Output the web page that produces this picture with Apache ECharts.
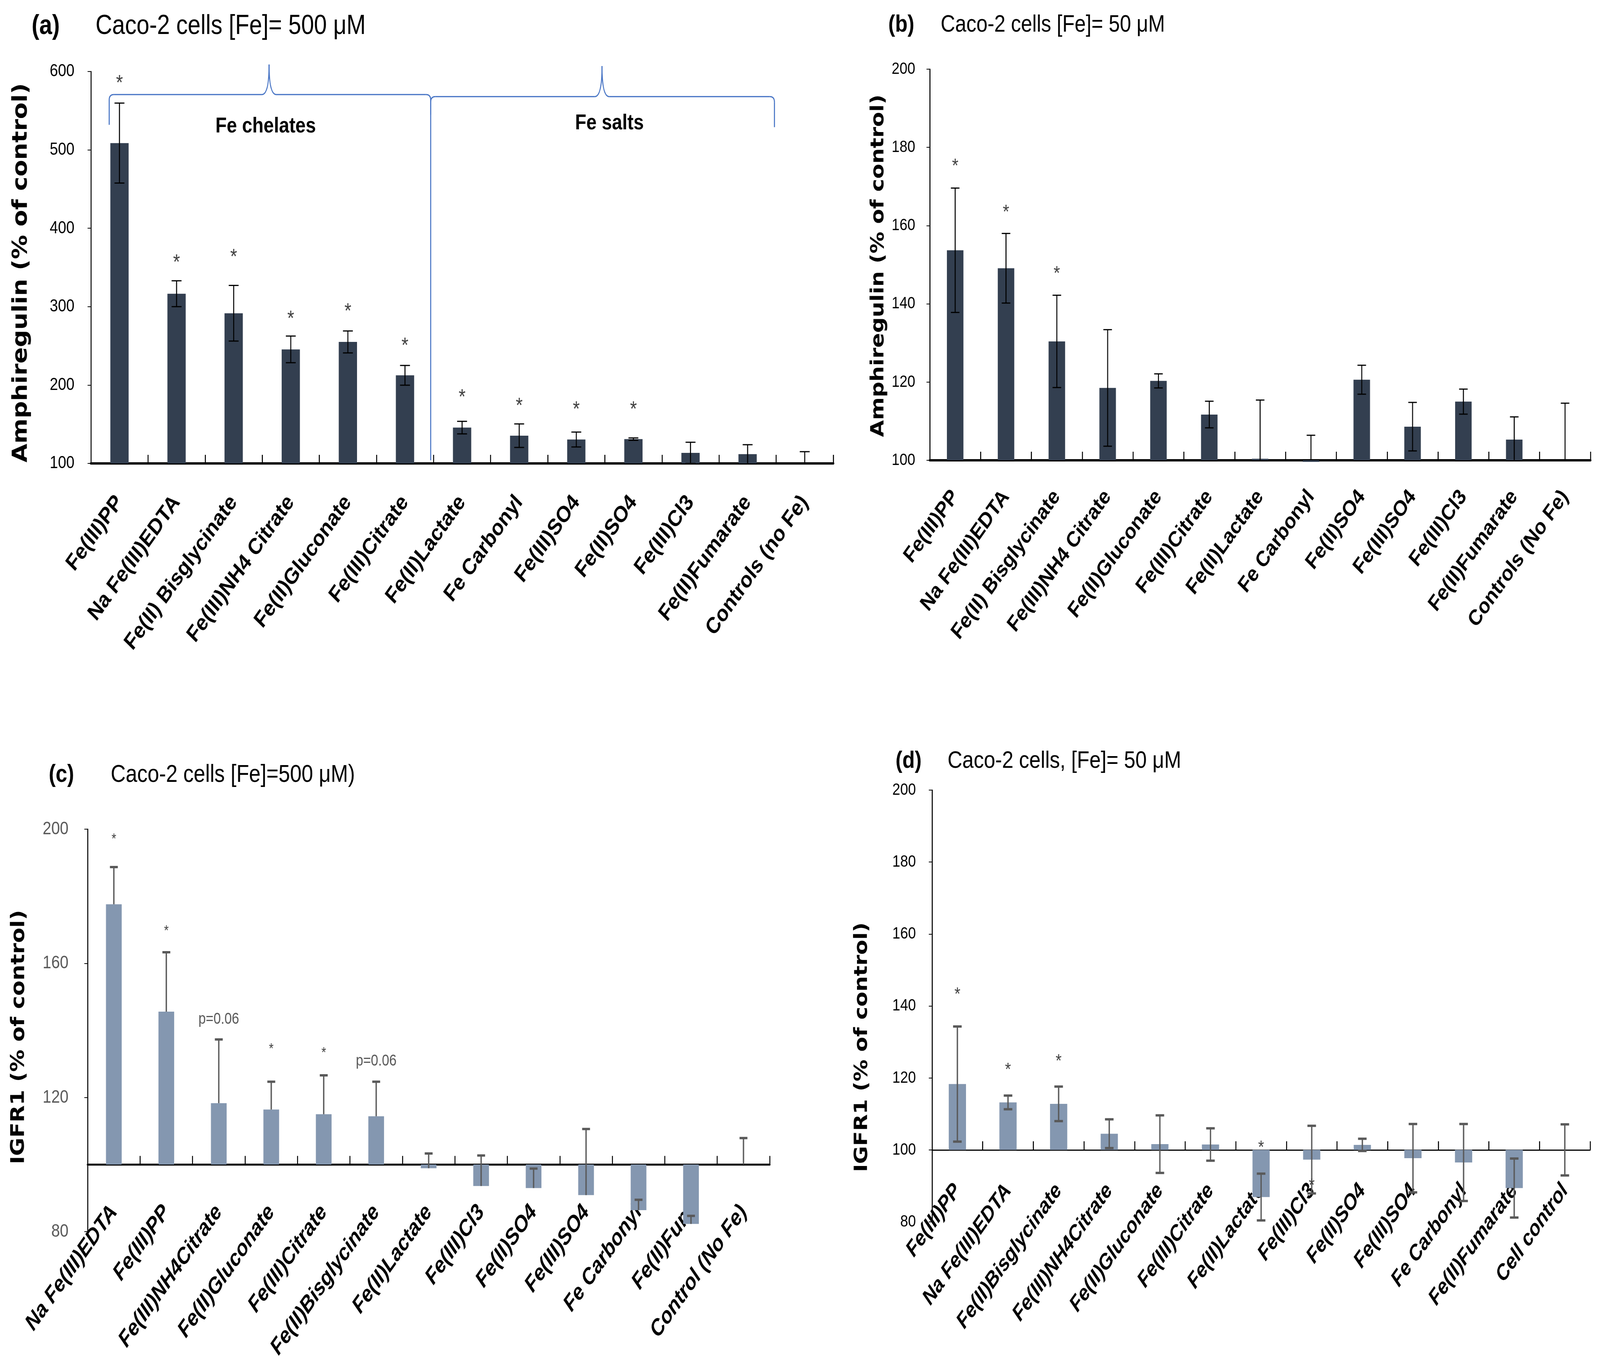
<!DOCTYPE html>
<html>
<head>
<meta charset="utf-8">
<script src="https://cdn.jsdelivr.net/npm/echarts@6/dist/echarts.min.js"></script>
<style>
html,body{margin:0;padding:0;background:#fff;overflow:hidden}
#chart{width:4858px;height:3501px;transform-origin:0 0}
</style>
</head>
<body>
<div id="chart"></div>
<script>
// ---------------- DATA ----------------
const BASE = 100;

const A_CATS = ['Fe(III)PP','Na Fe(III)EDTA','Fe(II) Bisglycinate','Fe(III)NH4 Citrate','Fe(II)Gluconate','Fe(III)Citrate','Fe(II)Lactate','Fe Carbonyl','Fe(III)SO4','Fe(II)SO4','Fe(III)Cl3','Fe(II)Fumarate','Controls (no Fe)'];
const A_VALS = [508.7, 316.5, 291.6, 245.5, 255.0, 212.4, 145.7, 135.4, 130.5, 131.0, 113.5, 111.9, 100];
const A_ERR  = [51.0, 16.5, 35.5, 17.0, 14.0, 12.6, 8.0, 15.0, 9.5, 1.5, 13.5, 12.0, 15.0];
const A_MARK = ['*','*','*','*','*','*','*','*','*','*','','',''];
const A_MARK_Y = [590.5, 361.5, 368.7, 290, 299.5, 255.4, 189.8, 178.7, 174.3, 174.3, null, null, null];

const B_CATS = ['Fe(III)PP','Na Fe(III)EDTA','Fe(II) Bisglycinate','Fe(III)NH4 Citrate','Fe(II)Gluconate','Fe(III)Citrate','Fe(II)Lactate','Fe Carbonyl','Fe(II)SO4','Fe(III)SO4','Fe(III)Cl3','Fe(II)Fumarate','Controls (No Fe)'];
const B_VALS = [153.7, 149.1, 130.4, 118.5, 120.3, 111.7, 100.4, 99.6, 120.6, 108.6, 115.0, 105.3, 100];
const B_ERR  = [15.9, 8.9, 11.8, 14.9, 1.8, 3.4, 15.0, 6.8, 3.7, 6.2, 3.2, 5.8, 14.6];
const B_MARK = ['*','*','*','','','','','','','','','',''];
const B_MARK_Y = [176.1, 164.3, 148.6, null, null, null, null, null, null, null, null, null, null];

const C_CATS = ['Na Fe(III)EDTA','Fe(III)PP','Fe(III)NH4Citrate','Fe(II)Gluconate','Fe(III)Citrate','Fe(II)Bisglycinate','Fe(II)Lactate','Fe(III)Cl3','Fe(II)SO4','Fe(III)SO4','Fe Carbonyl','Fe(II)Fum','Control (No Fe)'];
const C_VALS = [177.6, 145.6, 118.3, 116.4, 115.0, 114.4, 98.9, 93.6, 93.0, 90.9, 86.4, 82.3, 100];
const C_ERR  = [11.1, 17.7, 19.0, 8.3, 11.6, 10.3, 4.4, 9.1, 5.8, 19.7, 3.1, 2.4, 7.9];
const C_MARK = ['*','*','p=0.06','*','*','p=0.06','','','','','','',''];
const C_MARK_Y = [197.8, 170.4, 143.3, 135.2, 134.0, 130.8, null, null, null, null, null, null, null];

const D_CATS = ['Fe(III)PP','Na Fe(III)EDTA','Fe(II)Bisglycinate','Fe(III)NH4Citrate','Fe(II)Gluconate','Fe(III)Citrate','Fe(II)Lactate','Fe(III)Cl3','Fe(II)SO4','Fe(III)SO4','Fe Carbonyl','Fe(II)Fumarate','Cell control'];
const D_VALS = [118.3, 113.2, 112.8, 104.5, 101.6, 101.5, 86.9, 97.3, 101.4, 97.7, 96.5, 89.4, 100];
const D_ERR  = [16.0, 1.9, 4.8, 4.0, 8.0, 4.5, 6.5, 9.4, 1.7, 9.5, 10.7, 8.2, 7.1];
const D_MARK = ['*','*','*','','','','*','*','','','','',''];
const D_MARK_Y = [144.2, 123.2, 125.6, null, null, null, 101.6, 91.1, null, null, null, null, null];

const TITLES = [
  ['(a)', 'Caco-2 cells [Fe]= 500 \u03bcM'],
  ['(b)', 'Caco-2 cells [Fe]= 50 \u03bcM'],
  ['(c)', 'Caco-2 cells [Fe]=500 \u03bcM)'],
  ['(d)', 'Caco-2 cells, [Fe]= 50 \u03bcM']
];
const Y_NAMES = ['Amphiregulin (% of control)', 'Amphiregulin (% of control)', 'IGFR1 (% of control)', 'IGFR1 (% of control)'];

// annotation (brace) geometry for panel (a), in category-index / value units
const BRACES = [
  {from: -0.18, to: 5.45, peak: 2.62, level: 570.6, tip: 609, leftEnd: 532, rightEnd: 104},
  {from: 5.45, to: 11.47, peak: 8.45, level: 568, tip: 607, leftEnd: 545, rightEnd: 529}
];
const GROUPS = [['Fe chelates', 2.56, 530], ['Fe salts', 8.58, 534]];

// ---------------- LAYOUT / STYLE ----------------
const W = 4858, H = 3501;
const FONT = '"Liberation Sans", Arial, sans-serif';
const NAME_FONT = '"DejaVu Sans", Verdana, sans-serif';

const PANELS = [
  {cats:A_CATS, vals:A_VALS, err:A_ERR, mark:A_MARK, markY:A_MARK_Y,
   left:276, top:183, width:2254, height:1003, yMin:100, yMax:600, yInt:100,
   bar:'#333F50', ratio:0.32, errColor:'#000', errW:3, capW:30, capLw:3, plusOnly:false,
   italic:false, xLineW:6, labelMargin:90, labelSize:58, yLabelSize:45, yLabelColor:'#000', yLabelMargin:50,
   markSize:54, markColor:'#404040',
   title:{x1:96, x2:290, y:68, s1:70, s2:70}, name:{x:65, y:698, size:62}},
  {cats:B_CATS, vals:B_VALS, err:B_ERR, mark:B_MARK, markY:B_MARK_Y,
   left:2823, top:177, width:2006, height:1001, yMin:100, yMax:200, yInt:20,
   bar:'#333F50', ratio:0.325, errColor:'#000', errW:3, capW:26, capLw:3, plusOnly:false,
   italic:false, xLineW:6, labelMargin:84, labelSize:56, yLabelSize:43, yLabelColor:'#000', yLabelMargin:44,
   markSize:50, markColor:'#404040',
   title:{x1:2697, x2:2856, y:64, s1:62, s2:61}, name:{x:2667, y:680, size:56}},
  {cats:C_CATS, vals:C_VALS, err:C_ERR, mark:C_MARK, markY:C_MARK_Y,
   left:266, top:2122, width:2071, height:1030, yMin:80, yMax:200, yInt:40,
   bar:'#8497B0', ratio:0.30, errColor:'#595959', errW:4, capW:24, capLw:6, plusOnly:true,
   italic:true, xLineW:5, labelMargin:112, labelSize:58, yLabelSize:47, yLabelColor:'#595959', yLabelMargin:58,
   markSize:36, markColor:'#404040',
   title:{x1:148, x2:336, y:1984, s1:63, s2:63}, name:{x:58, y:2654, size:57}},
  {cats:D_CATS, vals:D_VALS, err:D_ERR, mark:D_MARK, markY:D_MARK_Y,
   left:2830, top:2022, width:1998, height:1105, yMin:80, yMax:200, yInt:20,
   bar:'#8497B0', ratio:0.34, errColor:'#595959', errW:4, capW:26, capLw:6, plusOnly:false,
   italic:true, xLineW:3, labelMargin:95, labelSize:56, yLabelSize:43, yLabelColor:'#000', yLabelMargin:49,
   markSize:46, markColor:'#404040',
   title:{x1:2719, x2:2877, y:1948, s1:62, s2:62}, name:{x:2617, y:2680, size:56}}
];

// ---------------- RENDERERS ----------------
function barRender(p) {
  return function (params, api) {
    const i = api.value(0), v = api.value(1);
    const top = api.coord([i, v]);
    const base = api.coord([i, BASE]);
    const w = api.size([1, 0])[0] * p.ratio;
    return {type: 'rect',
      shape: {x: top[0] - w / 2, y: Math.min(top[1], base[1]), width: w, height: Math.abs(base[1] - top[1])},
      style: {fill: p.bar, stroke: 'none'}};
  };
}
function errRender(p) {
  return function (params, api) {
    const i = api.value(0), v = api.value(1), e = api.value(2);
    const hi = v + e;
    const lo = p.plusOnly ? v : v - e;
    const loC = Math.max(lo, p.yMin);
    const ph = api.coord([i, hi]);
    const pl = api.coord([i, loC]);
    const x = ph[0], cw = p.capW / 2;
    const st = {stroke: p.errColor, lineWidth: p.errW, fill: 'none'};
    const cst = {stroke: p.errColor, lineWidth: p.capLw, fill: 'none'};
    const kids = [
      {type: 'line', shape: {x1: x, y1: ph[1], x2: x, y2: pl[1]}, style: st},
      {type: 'line', shape: {x1: x - cw, y1: ph[1], x2: x + cw, y2: ph[1]}, style: cst}
    ];
    if (!p.plusOnly && lo >= p.yMin) {
      kids.push({type: 'line', shape: {x1: x - cw, y1: pl[1], x2: x + cw, y2: pl[1]}, style: cst});
    }
    return {type: 'group', children: kids};
  };
}
function markRender(p) {
  return function (params, api) {
    const i = api.value(0), y = api.value(1);
    const t = p.mark[i];
    const pt = api.coord([i, y]);
    const isStar = t === '*';
    const size = isStar ? p.markSize : 40;
    return {type: 'text', x: pt[0], y: pt[1] + (isStar ? size * 0.22 : 0),
      style: {text: t, font: size + 'px ' + FONT, fill: isStar ? p.markColor : '#595959',
        align: 'center', verticalAlign: 'middle', textAlign: 'center', textVerticalAlign: 'middle'}};
  };
}
function braceRender(params, api) {
  const x0 = api.coord([0, 600])[0];
  const bw = api.coord([1, 600])[0] - x0;
  const X = i => x0 + i * bw;
  const Y = v => api.coord([0, v])[1];
  const st = {stroke: '#4472C4', lineWidth: 3, fill: 'none'};
  const r = 14, s = 22;
  const kids = [];
  BRACES.forEach(b => {
    const xa = X(b.from), xb = X(b.to), xp = X(b.peak);
    const yh = Y(b.level), yt = Y(b.tip), yl = Y(b.leftEnd), yr = Y(b.rightEnd);
    kids.push({type: 'line', shape: {x1: xa, y1: yl, x2: xa, y2: yh + r}, style: st});
    kids.push({type: 'bezierCurve', shape: {x1: xa, y1: yh + r, cpx1: xa, cpy1: yh, x2: xa + r, y2: yh}, style: st});
    kids.push({type: 'line', shape: {x1: xa + r, y1: yh, x2: xp - s, y2: yh}, style: st});
    kids.push({type: 'bezierCurve', shape: {x1: xp - s, y1: yh, cpx1: xp, cpy1: yh, x2: xp, y2: yt}, style: st});
    kids.push({type: 'bezierCurve', shape: {x1: xp, y1: yt, cpx1: xp, cpy1: yh, x2: xp + s, y2: yh}, style: st});
    kids.push({type: 'line', shape: {x1: xp + s, y1: yh, x2: xb - r, y2: yh}, style: st});
    kids.push({type: 'bezierCurve', shape: {x1: xb - r, y1: yh, cpx1: xb, cpy1: yh, x2: xb, y2: yh + r}, style: st});
    kids.push({type: 'line', shape: {x1: xb, y1: yh + r, x2: xb, y2: yr}, style: st});
  });
  GROUPS.forEach(g => {
    kids.push({type: 'text', x: X(g[1]), y: Y(g[2]),
      style: {text: g[0], font: 'bold 56px ' + FONT, fill: '#000', align: 'center', verticalAlign: 'middle',
        textAlign: 'center', textVerticalAlign: 'middle'}});
  });
  return {type: 'group', children: kids};
}

// ---------------- OPTION ----------------
const grids = [], xAxes = [], yAxes = [], series = [], graphics = [];
PANELS.forEach((p, k) => {
  grids.push({left: p.left, top: p.top, width: p.width, height: p.height, containLabel: false});
  xAxes.push({
    type: 'category', gridIndex: k, data: p.cats, boundaryGap: true,
    offset: -p.height * (BASE - p.yMin) / (p.yMax - p.yMin),
    axisLine: {show: true, onZero: false, lineStyle: {color: '#000', width: p.xLineW}},
    axisTick: {show: true, inside: true, length: 22, alignWithLabel: false, lineStyle: {color: '#000', width: 3}},
    axisLabel: {interval: 0, rotate: 50, margin: p.labelMargin, fontSize: p.labelSize, fontWeight: 'bold',
      fontStyle: p.italic ? 'italic' : 'normal', fontFamily: FONT, color: '#000'},
    splitLine: {show: false}
  });
  yAxes.push({
    type: 'value', gridIndex: k, min: p.yMin, max: p.yMax, interval: p.yInt,
    axisLine: {show: true, onZero: false, lineStyle: {color: '#000', width: 3}},
    axisTick: {show: true, length: 10, lineStyle: {color: '#000', width: 2}},
    axisLabel: {margin: p.yLabelMargin, fontSize: p.yLabelSize, color: p.yLabelColor, fontFamily: FONT},
    splitLine: {show: false}
  });
  series.push({type: 'custom', name: 'bars' + k, xAxisIndex: k, yAxisIndex: k, z: 2,
    renderItem: barRender(p), encode: {x: 0, y: 1},
    data: p.vals.map((v, i) => [i, v])});
  series.push({type: 'custom', name: 'err' + k, xAxisIndex: k, yAxisIndex: k, z: 3,
    renderItem: errRender(p), encode: {x: 0, y: 1},
    data: p.vals.map((v, i) => [i, v, p.err[i]])});
  const md = [];
  p.mark.forEach((t, i) => { if (t && p.markY[i] != null) md.push([i, p.markY[i]]); });
  series.push({type: 'custom', name: 'mark' + k, xAxisIndex: k, yAxisIndex: k, z: 4,
    renderItem: markRender(p), encode: {x: 0, y: 1}, data: md});

  graphics.push({type: 'text', x: p.title.x1, y: p.title.y,
    style: {text: TITLES[k][0], font: 'bold ' + p.title.s1 + 'px ' + FONT, fill: '#000',
      align: 'left', verticalAlign: 'middle', textAlign: 'left', textVerticalAlign: 'middle'}});
  graphics.push({type: 'text', x: p.title.x2, y: p.title.y,
    style: {text: TITLES[k][1], font: p.title.s2 + 'px ' + FONT, fill: '#000',
      align: 'left', verticalAlign: 'middle', textAlign: 'left', textVerticalAlign: 'middle'}});
  graphics.push({type: 'text', x: p.name.x, y: p.name.y, rotation: Math.PI / 2,
    style: {text: Y_NAMES[k], font: 'bold ' + p.name.size + 'px ' + NAME_FONT, fill: '#000',
      align: 'center', verticalAlign: 'middle', textAlign: 'center', textVerticalAlign: 'middle'}});
});
series.push({type: 'custom', name: 'brace', xAxisIndex: 0, yAxisIndex: 0, z: 5,
  renderItem: braceRender, encode: {x: 0, y: 1}, data: [[0, 600]]});

// The browser viewport may be smaller than the intended 4858x3501 canvas:
// draw at full size and fit the whole figure into the viewport.
const el = document.getElementById('chart');
const sx = Math.min(1, (window.innerWidth || W) / W);
const sy = Math.min(1, (window.innerHeight || H) / H);
el.style.transform = 'scale(' + sx + ',' + sy + ')';

const chart = echarts.init(el, null, {renderer: 'canvas', width: W, height: H});
chart.setOption({
  animation: false,
  backgroundColor: '#ffffff',
  grid: grids, xAxis: xAxes, yAxis: yAxes, series: series, graphic: graphics
});
</script>
</body>
</html>
